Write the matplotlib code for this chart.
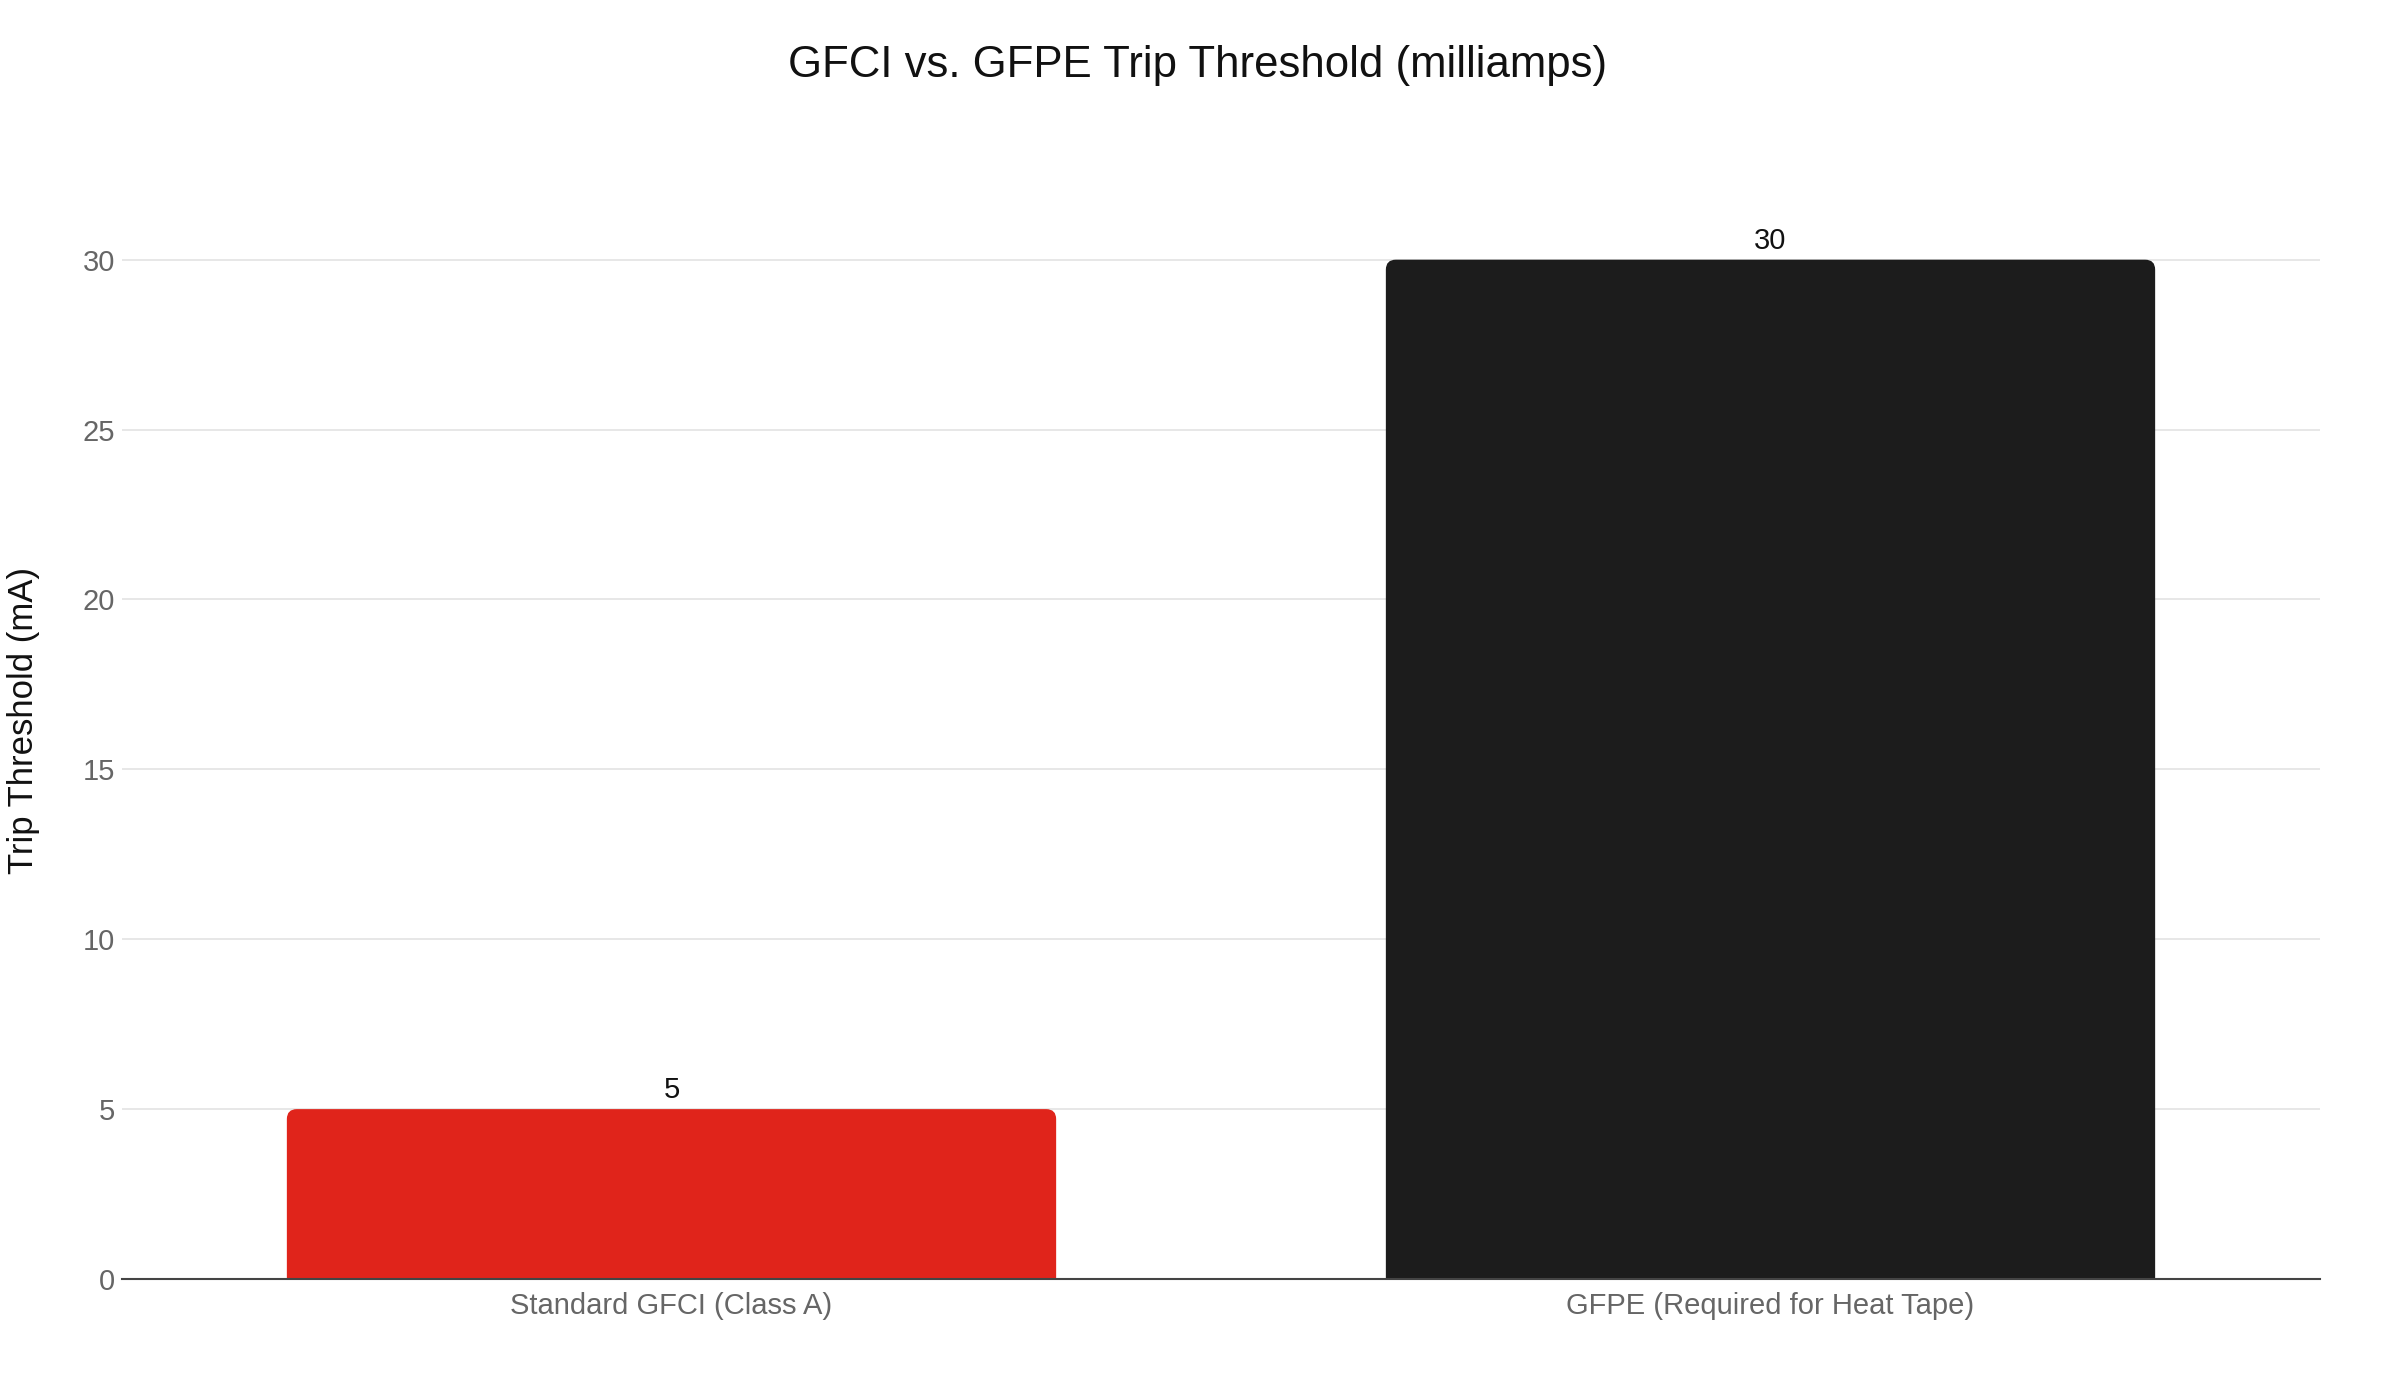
import matplotlib
matplotlib.use('Agg')
import matplotlib.pyplot as plt
from matplotlib.patches import FancyBboxPatch

categories = ['Standard GFCI (Class A)', 'GFPE (Required for Heat Tape)']
values = [5, 30]
colors = ['#e0241b', '#1c1c1c']
yticks = [0, 5, 10, 15, 20, 25, 30]

plt.rcParams['font.family'] = ['Liberation Sans', 'DejaVu Sans']

W, H = 2400, 1400
fig = plt.figure(figsize=(24, 14), dpi=100)
left, right, top, bottom = 122, 2320, 206, 1279
ax = fig.add_axes([left / W, 1 - bottom / H, (right - left) / W, (bottom - top) / H])

x = list(range(len(categories)))
bars = ax.bar(x, values, width=0.7, color=colors, zorder=2)
ax.set_xlim(-0.5, len(categories) - 0.5)
ax.set_ylim(0, 31.58)

# swap plain rectangles for ones with rounded top corners
px_x = (len(categories)) / (right - left)
px_y = 31.58 / (bottom - top)
aspect = px_y / px_x
r = 10 * px_x
for b in bars:
    bx, by = b.get_x(), b.get_y()
    bw, bh = b.get_width(), b.get_height()
    ext = r * aspect
    p = FancyBboxPatch((bx, by - ext), bw, bh + ext,
                       boxstyle='round,pad=0,rounding_size=%f' % r,
                       mutation_aspect=aspect, facecolor=b.get_facecolor(),
                       edgecolor='none', zorder=2)
    p.set_clip_path(ax.patch)
    ax.add_patch(p)
    b.set_visible(False)

for xi, v in zip(x, values):
    ax.annotate(str(v), (xi, v), xytext=(0, 8), textcoords='offset points',
                ha='center', va='baseline', fontsize=21, color='#111111')

ax.set_yticks(yticks)
ax.set_xticks(x)
ax.set_xticklabels(categories)
ax.tick_params(axis='both', length=0, labelsize=21, labelcolor='#666666')
ax.tick_params(axis='y', pad=5)
ax.tick_params(axis='x', pad=9)
ax.grid(axis='y', color='#e5e5e5', linewidth=1.3, zorder=0)
ax.set_axisbelow(True)
for s in ['top', 'right', 'left']:
    ax.spines[s].set_visible(False)
ax.spines['bottom'].set_color('#444444')
ax.spines['bottom'].set_linewidth(1.5)
ax.spines['bottom'].set_zorder(3)

fig.text(1198 / W, 1 - 66 / H, 'GFCI vs. GFPE Trip Threshold (milliamps)',
         ha='center', va='center', fontsize=31.5, color='#111111')
fig.text(24 / W, 1 - 721 / H, 'Trip Threshold (mA)', rotation=90,
         ha='center', va='center', fontsize=25, color='#111111')

fig.savefig('out.png', dpi=100, facecolor='white')
